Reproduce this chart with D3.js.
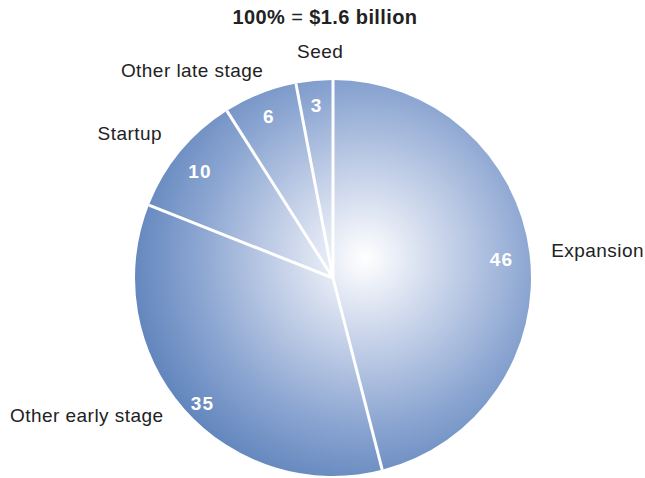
<!DOCTYPE html>
<html>
<head>
<meta charset="utf-8">
<script src="https://cdn.jsdelivr.net/npm/d3@7"></script>
<style>
  html, body { margin: 0; padding: 0; background: #fff; }
  svg { display: block; font-family: "Liberation Sans", Arial, Helvetica, sans-serif; }
</style>
</head>
<body>
<svg id="chart" width="645" height="478"></svg>
<script>
// Share of funding by stage, percent of $1.6 billion
const stages = ["Expansion", "Other early stage", "Startup", "Other late stage", "Seed"];
const shares = [46, 35, 10, 6, 3];

const cx = 333, cy = 278, radius = 198;

const svg = d3.select("#chart");

// Soft radial light, brightest slightly up and right of the centre
// (coordinates are relative to the pie group)
const grad = svg.append("defs").append("radialGradient")
  .attr("id", "pieShade")
  .attr("gradientUnits", "userSpaceOnUse")
  .attr("cx", 32).attr("cy", -20).attr("r", 265)
  .attr("fx", 32).attr("fy", -20);
[[0, "#ffffff"], [0.3, "#c9d4ea"], [0.65, "#88a3d0"], [1, "#5078b4"]].forEach(([o, c]) =>
  grad.append("stop").attr("offset", o).attr("stop-color", c));

const data = stages.map((s, i) => ({ stage: s, value: shares[i] }));
const arcs = d3.pie().sort(null).value(d => d.value)(data);
const arc = d3.arc().innerRadius(0).outerRadius(radius);

const g = svg.append("g").attr("transform", `translate(${cx},${cy})`);

g.selectAll("path.slice")
  .data(arcs)
  .join("path")
  .attr("class", "slice")
  .attr("d", arc)
  .attr("fill", "url(#pieShade)");

// White radial separators
g.selectAll("line.sep")
  .data(arcs)
  .join("line")
  .attr("class", "sep")
  .attr("x1", 0).attr("y1", 0)
  .attr("x2", d => radius * Math.sin(d.startAngle))
  .attr("y2", d => -radius * Math.cos(d.startAngle))
  .attr("stroke", "#fff")
  .attr("stroke-width", 3);

// Values inside the slices
const valueArc = d3.arc().innerRadius(174).outerRadius(174);
const valueNudge = { "Expansion": [-4, 3], "Other early stage": [0, 10], "Startup": [1, 4] };
g.selectAll("text.val")
  .data(arcs)
  .join("text")
  .attr("class", "val")
  .attr("x", d => valueArc.centroid(d)[0] + (valueNudge[d.data.stage] || [0, 0])[0])
  .attr("y", d => valueArc.centroid(d)[1] + (valueNudge[d.data.stage] || [0, 0])[1])
  .attr("text-anchor", "middle")
  .attr("dy", "0.36em")
  .attr("fill", "#fff")
  .attr("font-weight", "bold")
  .attr("font-size", 19)
  .attr("letter-spacing", 1.2)
  .text(d => d.data.value);

// Stage names outside the pie
const nameArc = d3.arc().innerRadius(222).outerRadius(222);
const nudge = {
  "Expansion": [-2, 0, "start"],
  "Other early stage": [-3, -10, "end"],
  "Startup": [0, -3, "end"],
  "Other late stage": [12, -1, "end"],
  "Seed": [8, -6, "middle"]
};
g.selectAll("text.name")
  .data(arcs)
  .join("text")
  .attr("class", "name")
  .attr("x", d => nameArc.centroid(d)[0] + nudge[d.data.stage][0])
  .attr("y", d => nameArc.centroid(d)[1] + nudge[d.data.stage][1])
  .attr("text-anchor", d => nudge[d.data.stage][2])
  .attr("dy", "0.36em")
  .attr("fill", "#222")
  .attr("font-size", 19)
  .attr("letter-spacing", 0.45)
  .text(d => d.data.stage);

// Title
const t = svg.append("text")
  .attr("x", cx - 8).attr("y", 17).attr("dy", "0.36em")
  .attr("text-anchor", "middle")
  .attr("font-size", 20)
  .attr("letter-spacing", 0.4)
  .attr("fill", "#222");
t.append("tspan").attr("font-weight", "bold").text("100%");
t.append("tspan").text(" = ");
t.append("tspan").attr("font-weight", "bold").text("$1.6 billion");
</script>
</body>
</html>
